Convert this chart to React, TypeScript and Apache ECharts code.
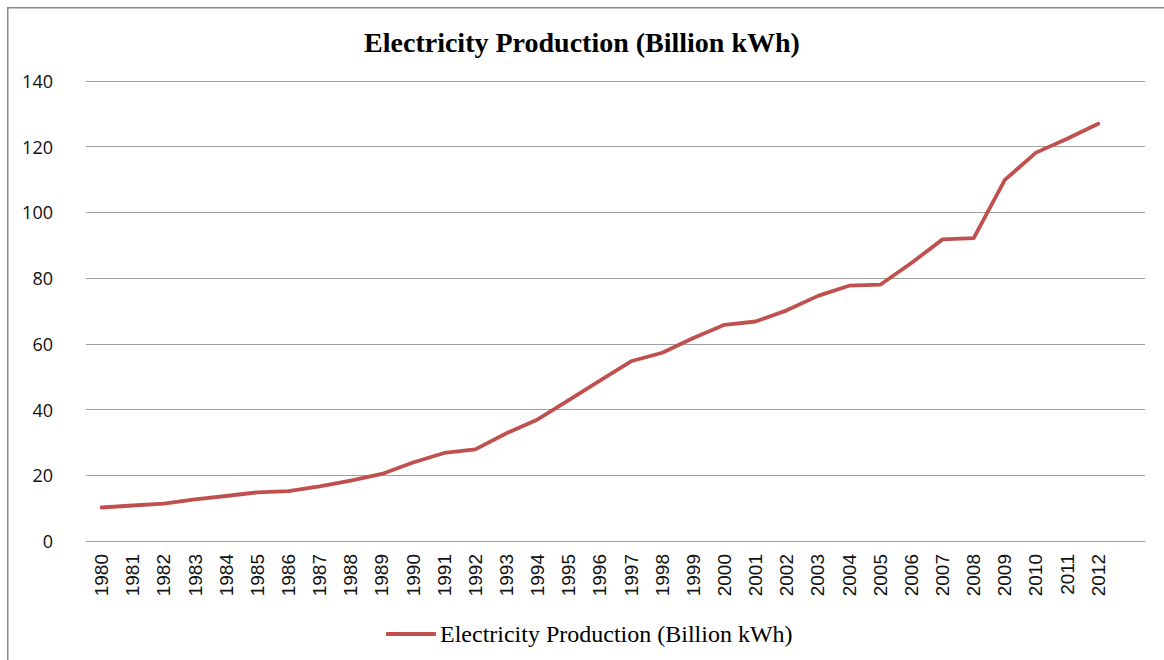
import React, { useEffect, useRef } from "react";
import * as echarts from "echarts";

// Annual electricity production, billion kWh
const YEARS = [
  "1980", "1981", "1982", "1983", "1984", "1985", "1986", "1987", "1988", "1989",
  "1990", "1991", "1992", "1993", "1994", "1995", "1996", "1997", "1998", "1999",
  "2000", "2001", "2002", "2003", "2004", "2005", "2006", "2007", "2008", "2009",
  "2010", "2011", "2012",
];
// One trailing empty slot keeps space after the last year, as in the workbook chart
const TRAILING_SLOT = [""];

const PRODUCTION = [
  10.2, 10.8, 11.4, 12.7, 13.7, 14.8, 15.2, 16.6, 18.4, 20.4,
  23.9, 26.8, 27.9, 32.8, 37.0, 42.9, 48.8, 54.7, 57.3, 61.8,
  65.8, 66.8, 70.2, 74.6, 77.7, 78.0, 84.6, 91.8, 92.2, 109.9,
  118.2, 122.4, 127.0,
];

const Y_MIN = 0;
const Y_MAX = 140;
const Y_STEP = 20;

const SERIES_NAME = "Electricity Production (Billion kWh)";
const LINE_COLOR = "#c0504d";
const GRID_COLOR = "#a0a0a0";

export default function App() {
  const ref = useRef<HTMLDivElement>(null);

  useEffect(() => {
    if (!ref.current) return;
    const chart = echarts.init(ref.current, undefined, { renderer: "svg" });
    chart.setOption({
      animation: false,
      backgroundColor: "#ffffff",
      title: {
        text: SERIES_NAME,
        left: "center",
        top: 23,
        textStyle: {
          fontFamily: "Liberation Serif",
          fontWeight: "bold",
          fontSize: 28,
          color: "#000000",
        },
      },
      legend: {
        left: 381,
        top: 617,
        itemWidth: 50,
        itemHeight: 4,
        itemGap: 10,
        icon: "roundRect",
        textStyle: {
          fontFamily: "Liberation Serif",
          fontSize: 24,
          color: "#000000",
          padding: [0, 0, 0, -1],
        },
        data: [SERIES_NAME],
      },
      grid: {
        left: 86,
        right: 19,
        top: 81,
        bottom: 119,
        containLabel: false,
      },
      xAxis: {
        type: "category",
        boundaryGap: true,
        data: [...YEARS, ...TRAILING_SLOT],
        axisLine: { show: true, lineStyle: { color: GRID_COLOR, width: 1 } },
        axisTick: { show: false },
        axisLabel: {
          rotate: 90,
          interval: 0,
          margin: 13,
          fontFamily: "Liberation Sans",
          fontSize: 19,
          color: "#111111",
        },
        splitLine: { show: false },
      },
      yAxis: {
        type: "value",
        min: Y_MIN,
        max: Y_MAX,
        interval: Y_STEP,
        axisLine: { show: false },
        axisTick: { show: false },
        axisLabel: {
          margin: 33,
          fontFamily: "Open Sans",
          fontSize: 18,
          color: "#111111",
        },
        splitLine: { show: true, lineStyle: { color: GRID_COLOR, width: 1 } },
      },
      series: [
        {
          name: SERIES_NAME,
          type: "line",
          data: PRODUCTION,
          symbol: "none",
          color: LINE_COLOR,
          lineStyle: { color: LINE_COLOR, width: 3.8, cap: "round", join: "round" },
        },
      ],
      graphic: [
        {
          type: "rect",
          silent: true,
          shape: { x: 7.75, y: 7.75, width: 1200, height: 700 },
          style: { fill: "none", stroke: "#8a8a8a", lineWidth: 1.5 },
        },
      ],
    });
    return () => chart.dispose();
  }, []);

  return (
    <div
      ref={ref}
      style={{ position: "fixed", left: 0, top: 0, width: 1164, height: 660 }}
    />
  );
}
